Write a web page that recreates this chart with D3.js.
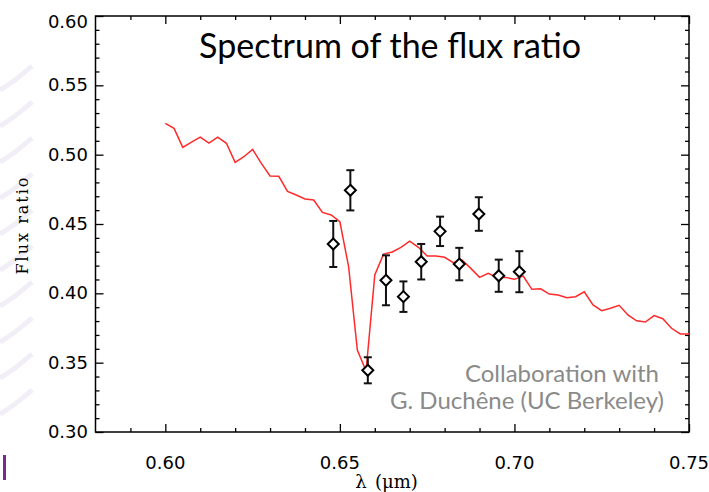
<!DOCTYPE html>
<html>
<head>
<meta charset="utf-8">
<script src="https://cdn.jsdelivr.net/npm/d3@7"></script>
<style>
    body { margin: 0; background: #fff; }
</style>
</head>
<body>
<div id="chart"></div>
<script>
var SVGWidth = 709;
var SVGHeight = 492;

// plot frame (pixels)
var Left = 95.5, Right = 689, Top = 16, Bottom = 432;

// model spectrum of the flux ratio (red curve)
var modelLambda = [
    0.6000, 0.6025, 0.6050, 0.6075, 0.6100, 0.6125, 0.6150, 0.6175, 0.6200, 0.6225,
    0.6250, 0.6275, 0.6300, 0.6325, 0.6350, 0.6375, 0.6400, 0.6425, 0.6450, 0.6475,
    0.6500, 0.6525, 0.6550, 0.6575, 0.6600, 0.6625, 0.6650, 0.6675, 0.6700, 0.6725,
    0.6750, 0.6775, 0.6800, 0.6825, 0.6850, 0.6875, 0.6900, 0.6925, 0.6950, 0.6975,
    0.7000, 0.7025, 0.7050, 0.7075, 0.7100, 0.7125, 0.7150, 0.7175, 0.7200, 0.7225,
    0.7250, 0.7275, 0.7300, 0.7325, 0.7350, 0.7375, 0.7400, 0.7425, 0.7450, 0.7475,
    0.7500
];
var modelRatio = [
    0.5226, 0.5190, 0.5053, 0.5091, 0.5127, 0.5084, 0.5127, 0.5082, 0.4945, 0.4985,
    0.5038, 0.4937, 0.4846, 0.4844, 0.4735, 0.4709, 0.4680, 0.4673, 0.4584, 0.4565,
    0.4516, 0.4192, 0.3591, 0.3440, 0.4132, 0.4283, 0.4298, 0.4332, 0.4377, 0.4332,
    0.4269, 0.4269, 0.4260, 0.4221, 0.4240, 0.4180, 0.4115, 0.4144, 0.4115, 0.4115,
    0.4101, 0.4125, 0.4029, 0.4033, 0.3995, 0.3988, 0.3968, 0.3976, 0.4011, 0.3916,
    0.3875, 0.3892, 0.3914, 0.3844, 0.3802, 0.3793, 0.3839, 0.3817, 0.3748, 0.3707,
    0.3707
];

// measured points with error bars
var obsLambda = [0.6481, 0.6530, 0.6580, 0.6632, 0.6682, 0.6733, 0.6787, 0.6842, 0.6898, 0.6955, 0.7014];
var obsRatio  = [0.4356, 0.4743, 0.3445, 0.4094, 0.3976, 0.4228, 0.4447, 0.4211, 0.4572, 0.4127, 0.4156];
var obsError  = [0.0166, 0.0145, 0.0094, 0.0180, 0.0110, 0.0128, 0.0106, 0.0117, 0.0121, 0.0116, 0.0148];

// ticks
var xMajor = [0.60, 0.65, 0.70, 0.75];
var xMinor = [0.59, 0.61, 0.62, 0.63, 0.64, 0.66, 0.67, 0.68, 0.69, 0.71, 0.72, 0.73, 0.74];
var yMajor = [0.30, 0.35, 0.40, 0.45, 0.50, 0.55, 0.60];
var yMinor = [0.31, 0.32, 0.33, 0.34, 0.36, 0.37, 0.38, 0.39, 0.41, 0.42, 0.43, 0.44,
              0.46, 0.47, 0.48, 0.49, 0.51, 0.52, 0.53, 0.54, 0.56, 0.57, 0.58, 0.59];

var svg = d3.select("#chart")
    .append("svg")
        .attr("width", SVGWidth)
        .attr("height", SVGHeight);

// faint slide background at the left edge
var deco = svg.append("g").attr("opacity", 0.18);
for (var i = 0; i < 10; i++) {
    deco.append("path")
        .attr("d", "M0," + (90 + i * 36) + " Q14," + (82 + i * 36) + " 32," + (66 + i * 36))
        .attr("fill", "none")
        .attr("stroke", "#b9a3d6")
        .attr("stroke-width", 5);
}
svg.append("rect")
    .attr("x", 3).attr("y", 455)
    .attr("width", 3).attr("height", 25)
    .attr("fill", "#7a2a8c");

var x = d3.scaleLinear().domain([0.58, 0.75]).range([Left, Right]);
var y = d3.scaleLinear().domain([0.30, 0.60]).range([Bottom, Top]);

// inward ticks on all four sides
function tickAxis(axisFn, scale, values, size, translate) {
    var g = svg.append("g")
        .attr("transform", translate)
        .call(axisFn(scale).tickValues(values).tickSize(size).tickFormat(""));
    g.select(".domain").remove();
    g.selectAll("line").attr("stroke", "#000").attr("stroke-width", 1.3);
}
tickAxis(d3.axisBottom, x, xMajor, -8, "translate(0," + Bottom + ")");
tickAxis(d3.axisBottom, x, xMinor, -4, "translate(0," + Bottom + ")");
tickAxis(d3.axisTop, x, xMajor, -8, "translate(0," + Top + ")");
tickAxis(d3.axisTop, x, xMinor, -4, "translate(0," + Top + ")");
tickAxis(d3.axisLeft, y, yMajor, -8, "translate(" + Left + ",0)");
tickAxis(d3.axisLeft, y, yMinor, -4, "translate(" + Left + ",0)");
tickAxis(d3.axisRight, y, yMajor, -8, "translate(" + Right + ",0)");
tickAxis(d3.axisRight, y, yMinor, -4, "translate(" + Right + ",0)");

svg.append("rect")
    .attr("x", Left).attr("y", Top)
    .attr("width", Right - Left).attr("height", Bottom - Top)
    .attr("fill", "none")
    .attr("stroke", "#000")
    .attr("stroke-width", 1.5);

// tick labels
svg.append("g").selectAll("text")
    .data(xMajor)
    .enter()
    .append("text")
        .attr("x", function(d) { return x(d); })
        .attr("y", 469)
        .attr("text-anchor", "middle")
        .attr("font-family", "DejaVu Sans, sans-serif")
        .attr("font-size", 18)
        .text(function(d) { return d3.format(".2f")(d); });

svg.append("g").selectAll("text")
    .data(yMajor)
    .enter()
    .append("text")
        .attr("x", 88)
        .attr("y", function(d) { return Math.max(y(d), 22) + 6; })
        .attr("text-anchor", "end")
        .attr("font-family", "DejaVu Sans, sans-serif")
        .attr("font-size", 18)
        .text(function(d) { return d3.format(".2f")(d); });

// axis titles
svg.append("text")
    .attr("transform", "translate(28,225) rotate(-90)")
    .attr("text-anchor", "middle")
    .attr("font-family", "DejaVu Serif, serif")
    .attr("font-size", 16)
    .attr("letter-spacing", 2)
    .text("Flux ratio");

svg.append("text")
    .attr("x", 361).attr("y", 488)
    .attr("text-anchor", "middle")
    .attr("font-family", "DejaVu Serif, serif")
    .attr("font-size", 18)
    .text("λ");

svg.append("text")
    .attr("x", 375).attr("y", 488)
    .attr("font-family", "DejaVu Serif, serif")
    .attr("font-size", 18)
    .text("(μm)");

// model curve
var modelData = modelLambda.map(function(d, i) { return { l: d, r: modelRatio[i] }; });
svg.append("path")
    .datum(modelData)
    .attr("fill", "none")
    .attr("stroke", "#ff2a2a")
    .attr("stroke-width", 1.5)
    .attr("d", d3.line()
        .x(function(d) { return x(d.l); })
        .y(function(d) { return y(d.r); })
    );

// measurements
var obsData = obsLambda.map(function(d, i) { return { l: d, r: obsRatio[i], e: obsError[i] }; });
var pts = svg.append("g").selectAll("g")
    .data(obsData)
    .enter()
    .append("g");

pts.append("line")
    .attr("x1", function(d) { return x(d.l); })
    .attr("x2", function(d) { return x(d.l); })
    .attr("y1", function(d) { return y(d.r - d.e); })
    .attr("y2", function(d) { return y(d.r + d.e); })
    .attr("stroke", "#111")
    .attr("stroke-width", 2);

[-1, 1].forEach(function(s) {
    pts.append("line")
        .attr("x1", function(d) { return x(d.l) - 4; })
        .attr("x2", function(d) { return x(d.l) + 4; })
        .attr("y1", function(d) { return y(d.r + s * d.e); })
        .attr("y2", function(d) { return y(d.r + s * d.e); })
        .attr("stroke", "#111")
        .attr("stroke-width", 2);
});

pts.append("path")
    .attr("transform", function(d) { return "translate(" + x(d.l) + "," + y(d.r) + ")"; })
    .attr("d", "M0,-5.5 L5.5,0 L0,5.5 L-5.5,0 Z")
    .attr("fill", "#fff")
    .attr("stroke", "#000")
    .attr("stroke-width", 2);

// title and credit
svg.append("text")
    .attr("x", 390).attr("y", 58)
    .attr("text-anchor", "middle")
    .attr("font-family", "Lato, sans-serif")
    .attr("font-size", 34)
    .attr("fill", "#000")
    .text("Spectrum of the flux ratio");

svg.append("text")
    .attr("x", 659).attr("y", 382)
    .attr("text-anchor", "end")
    .attr("font-family", "Lato, sans-serif")
    .attr("font-size", 24)
    .attr("fill", "#8a8a8a")
    .text("Collaboration with");

svg.append("text")
    .attr("x", 664).attr("y", 409)
    .attr("text-anchor", "end")
    .attr("font-family", "Lato, sans-serif")
    .attr("font-size", 24)
    .attr("fill", "#8a8a8a")
    .text("G. Duchêne (UC Berkeley)");
</script>
</body>
</html>
